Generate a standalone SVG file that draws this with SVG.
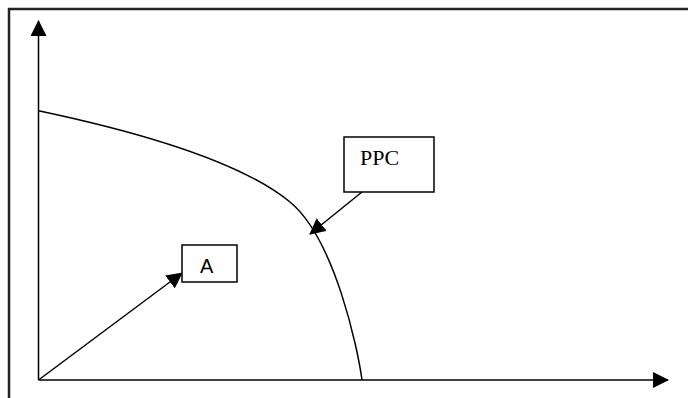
<svg xmlns="http://www.w3.org/2000/svg" width="688" height="398" viewBox="0 0 688 398">
<style>
.ln{fill:none;stroke:#000;stroke-width:1.5}
.box{fill:#fff;stroke:#000;stroke-width:1.5}
.arr{fill:none;stroke:#000;stroke-width:1.5;marker-end:url(#ah)}
</style>
<defs>
<marker id="ah" viewBox="0 0 16 16" refX="15" refY="8" markerWidth="16" markerHeight="16" markerUnits="userSpaceOnUse" orient="auto">
<path d="M0,0 L16,8 L0,16 z" fill="#000"/>
</marker>
</defs>
<rect width="688" height="398" fill="#fff"/>
<path d="M9,398 V9 H688" fill="none" stroke="#222" stroke-width="2.5"/>
<g id="axes">
<line class="arr" x1="38.5" y1="380" x2="38.5" y2="21"/>
<line class="arr" x1="38.5" y1="380" x2="668" y2="380"/>
</g>
<path id="curve" class="ln" d="M38.5,110.7 C138,131.7 240,161 290,202 C335,239 358,350 362,380"/>
<g id="connectors">
<line class="arr" x1="38.5" y1="380" x2="182" y2="273"/>
<line class="arr" x1="362" y1="192" x2="310" y2="234"/>
</g>
<g id="node-ppc">
<rect class="box" x="344" y="137" width="90" height="55"/>
<text x="360" y="165" font-family="Liberation Serif, serif" font-size="22">PPC</text>
</g>
<g id="node-a">
<rect class="box" x="182" y="245" width="55" height="37"/>
<text x="200" y="273" font-family="Liberation Sans, sans-serif" font-size="20">A</text>
</g>
</svg>
